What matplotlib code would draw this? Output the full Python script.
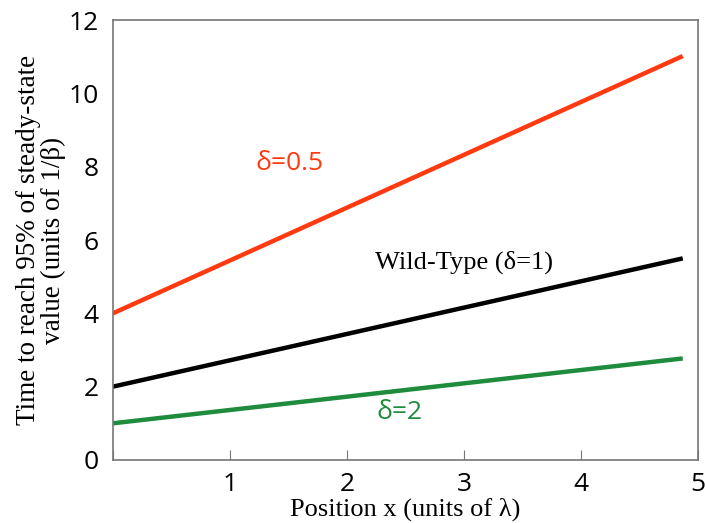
import matplotlib.pyplot as plt

# line end points
x_pos = [0.0, 4.87]
t_half = [4.0, 11.02]     # delta = 0.5
t_wild = [2.0, 5.5]       # delta = 1
t_two = [1.0, 2.77]       # delta = 2

x_ticks = [0, 1, 2, 3, 4, 5]
x_labels = ["", "1", "2", "3", "4", "5"]
y_ticks = [0, 2, 4, 6, 8, 10, 12]

fig = plt.figure(figsize=(7.05, 5.23), dpi=100)
ax = fig.add_axes([0.160, 0.1205, 0.830, 0.841])

ax.plot(x_pos, t_half, color="#ff3a10", lw=3.2, solid_capstyle="butt")
ax.plot(x_pos, t_wild, color="black", lw=3.2, solid_capstyle="butt")
ax.plot(x_pos, t_two, color="#1e8c3c", lw=3.2, solid_capstyle="butt")

ax.set_xlim(0, 5)
ax.set_ylim(0, 12)
ax.set_xticks(x_ticks)
ax.set_xticklabels(x_labels)
ax.set_yticks(y_ticks)
ax.tick_params(direction="in", color="#777777", labelsize=19)
ax.tick_params(axis="x", length=7, pad=9)
ax.tick_params(axis="y", length=0, pad=10)
for lab in ax.get_xticklabels() + ax.get_yticklabels():
    lab.set_family("Open Sans")
for s in ax.spines.values():
    s.set_color("#777777")
    s.set_linewidth(1.2)

serif = "Liberation Serif"
ax.set_xlabel("Position x (units of λ)", family=serif, fontsize=19, labelpad=0)
ax.set_ylabel("Time to reach 95% of steady-state\nvalue (units of 1/β)",
              family=serif, fontsize=19.5, labelpad=2, linespacing=1.0)

ax.text(1.51, 8.1, "δ=0.5", color="#ff3a10", fontsize=19, family="Open Sans",
        ha="center", va="center")
ax.text(3.0, 5.4, "Wild-Type (δ=1)", color="black", fontsize=19, family=serif,
        ha="center", va="center")
ax.text(2.45, 1.3, "δ=2", color="#1e8c3c", fontsize=19, family="Open Sans",
        ha="center", va="center")

fig.savefig("out.png", dpi=100)
